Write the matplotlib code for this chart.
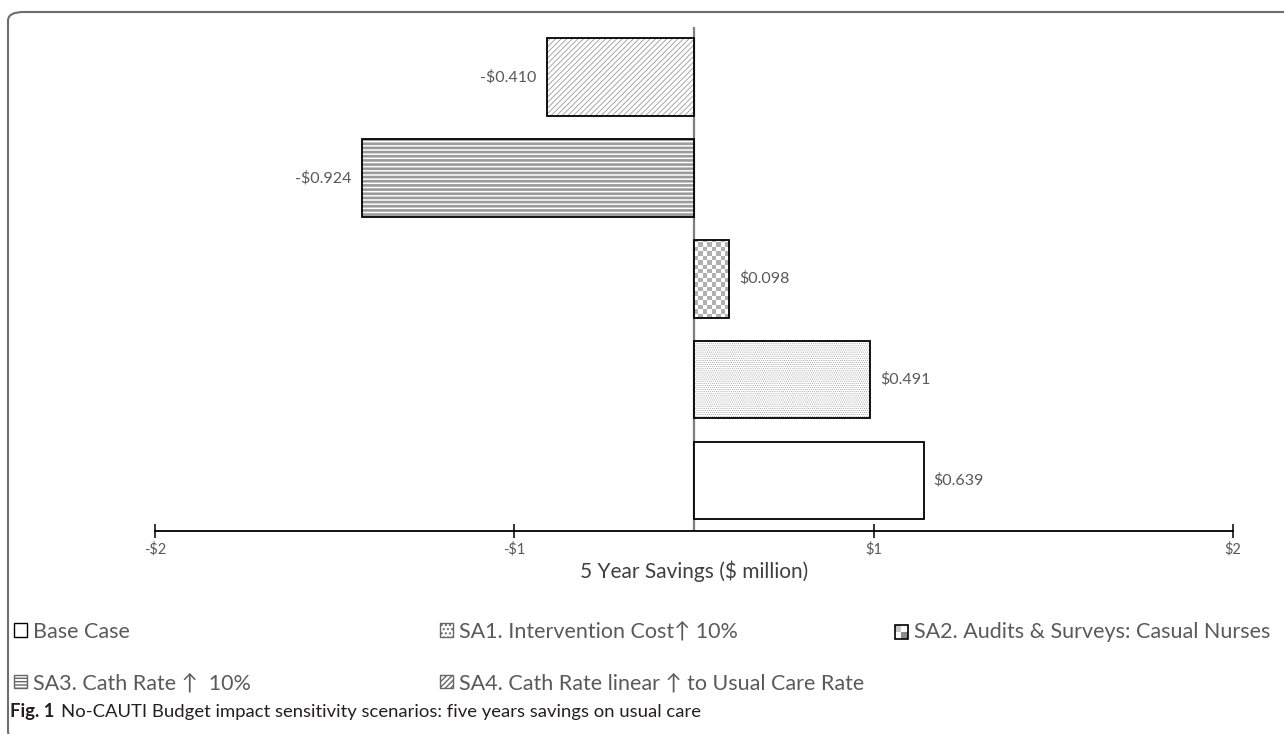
import numpy as np
import matplotlib
matplotlib.use('Agg')
import matplotlib.pyplot as plt
from matplotlib.patches import Patch, Rectangle, FancyBboxPatch

# scenarios, listed bottom to top as they sit on the y axis
scenarios = ['Base Case', 'SA1. Intervention Cost\u2191 10%',
             'SA2. Audits & Surveys: Casual Nurses',
             'SA3. Cath Rate \u2191  10%',
             'SA4. Cath Rate linear \u2191 to Usual Care Rate']
savings = [0.639, 0.491, 0.098, -0.924, -0.410]   # $ million over 5 years
value_labels = ['$0.639', '$0.491', '$0.098', '-$0.924', '-$0.410']
tick_vals = [-1.5, -0.5, 0.5, 1.5]
tick_labels = ['-$2', '-$1', '$1', '$2']

FONT = ['Lato', 'DejaVu Sans']
plt.rcParams['font.family'] = FONT
TXT = '#595959'
HATCH_GREY = '#9a9a9a'

W, H = 1284, 734
fig = plt.figure(figsize=(W / 100, H / 100), dpi=100)
ax = fig.add_axes([155 / W, 1 - 531 / H, (1233 - 155) / W, (531 - 26.5) / H])

ypos = np.arange(len(scenarios))
bh = 0.77
hatches = [None, '........', None, '----', '//////']

bars = ax.barh(ypos, savings, height=bh, color='white', edgecolor=HATCH_GREY,
               linewidth=0, zorder=2)
for b, h in zip(bars, hatches):
    if h:
        b.set_hatch(h)
# hatch line weights differ between the striped and the diagonal fills
if hasattr(bars[3], 'set_hatch_linewidth'):
    bars[3].set_hatch_linewidth(1.9)
    bars[4].set_hatch_linewidth(0.6)
    bars[1].set_hatch_linewidth(0.4)

# checkerboard fill for SA2, clipped to its bar
b2 = bars[2]
cell_x, cell_y = 0.0122, 0.044
nx = int(np.ceil(savings[2] / cell_x))
ny = int(np.ceil(bh / cell_y))
checker = (np.add.outer(np.arange(ny), np.arange(nx)) % 2).astype(float)
img = ax.imshow(checker, cmap=matplotlib.colors.ListedColormap(['white', '#b0b0b0']),
                extent=[0, nx * cell_x, ypos[2] - bh / 2, ypos[2] - bh / 2 + ny * cell_y],
                origin='lower', interpolation='nearest', aspect='auto', zorder=2.5)
img.set_clip_path(b2)

# outlines on top
ax.barh(ypos, savings, height=bh, fill=False, edgecolor='black',
        linewidth=1.3, zorder=3)

ax.axvline(0, color='#7f7f7f', lw=1.6, zorder=1)

for y, v, lab in zip(ypos, savings, value_labels):
    off = 10 if v > 0 else -10
    ax.annotate(lab, (v, y), xytext=(off, 0), textcoords='offset pixels',
                ha='left' if v > 0 else 'right', va='center',
                fontsize=11.5, color=TXT)

ax.set_xlim(-1.5, 1.5)
ax.set_ylim(-0.5, 4.5)
ax.set_yticks([])
for s in ['top', 'right', 'left']:
    ax.spines[s].set_visible(False)
ax.spines['bottom'].set_linewidth(1.3)
ax.set_xticks(tick_vals)
ax.set_xticklabels(tick_labels)
ax.tick_params(axis='x', direction='inout', length=10, width=1.1,
               labelsize=10.5, labelcolor=TXT, pad=3)
ax.set_xlabel('5 Year Savings ($ million)', fontsize=15, color='#404040',
              labelpad=3)
ax.patch.set_alpha(0)


class CheckerHandler:
    def legend_artist(self, legend, orig_handle, fontsize, handlebox):
        x0, y0 = handlebox.xdescent, handlebox.ydescent
        w, h = handlebox.width, handlebox.height
        cols = [['#c8c8c8', 'white'], ['white', '#8c8c8c']]
        for i in range(2):
            for j in range(2):
                r = Rectangle((x0 + j * w / 2, y0 + h - (i + 1) * h / 2), w / 2, h / 2,
                              facecolor=cols[i][j], edgecolor='none',
                              transform=handlebox.get_transform())
                handlebox.add_artist(r)
        frame = Rectangle((x0, y0), w, h, fill=False, edgecolor='black', lw=1.2,
                          transform=handlebox.get_transform())
        handlebox.add_artist(frame)
        return frame


def swatch(i):
    if i == 0:
        return Patch(facecolor='white', edgecolor='black', lw=1.0)
    if i == 1:
        return Patch(facecolor='white', edgecolor='#666666', hatch='....', lw=1.0)
    if i == 3:
        return Patch(facecolor='white', edgecolor='#666666', hatch='-----', lw=1.0)
    return Patch(facecolor='white', edgecolor='#666666', hatch='//////', lw=1.0)


checker_key = Rectangle((0, 0), 1, 1)
columns = [([0, 3], 14, 657.5), ([1, 4], 440, 657.5), ([2], 895, 632)]
leg_kw = dict(frameon=False, handlelength=0.6, handleheight=0.6,
              prop={'size': 15.5, 'family': FONT},
              handletextpad=0.3, labelspacing=1.45, borderpad=0, borderaxespad=0,
              labelcolor='#5a5a5a')
for idx, xpx, ypx in columns:
    handles = [checker_key if i == 2 else swatch(i) for i in idx]
    fig.legend(handles, [scenarios[i] for i in idx], loc='center left',
               bbox_to_anchor=(xpx / W, 1 - ypx / H),
               handler_map={checker_key: CheckerHandler()}, **leg_kw)

# caption
cap_font = ['Liberation Sans Narrow', 'Lato', 'DejaVu Sans']
t1 = fig.text(10 / W, 1 - 712 / H, 'Fig. 1', fontsize=13.3, fontweight='bold',
              family=cap_font, color='#231f20', va='center', ha='left')
ax.annotate('No-CAUTI Budget impact sensitivity scenarios: five years savings on usual care',
            xy=(1, 0.5), xycoords=t1, xytext=(7, 0), textcoords='offset pixels',
            va='center', ha='left', fontsize=13.3, family=cap_font, color='#231f20',
            annotation_clip=False)

# rounded frame around the figure panel
frame = FancyBboxPatch((8 / W, 1 - 740 / H), (1300 - 8) / W, (740 - 12) / H,
                       boxstyle='round,pad=0,rounding_size=0.012',
                       transform=fig.transFigure, fill=False,
                       edgecolor='#6e6e6e', lw=1.5, clip_on=False)
fig.patches.append(frame)

fig.savefig('out.png', dpi=100)
